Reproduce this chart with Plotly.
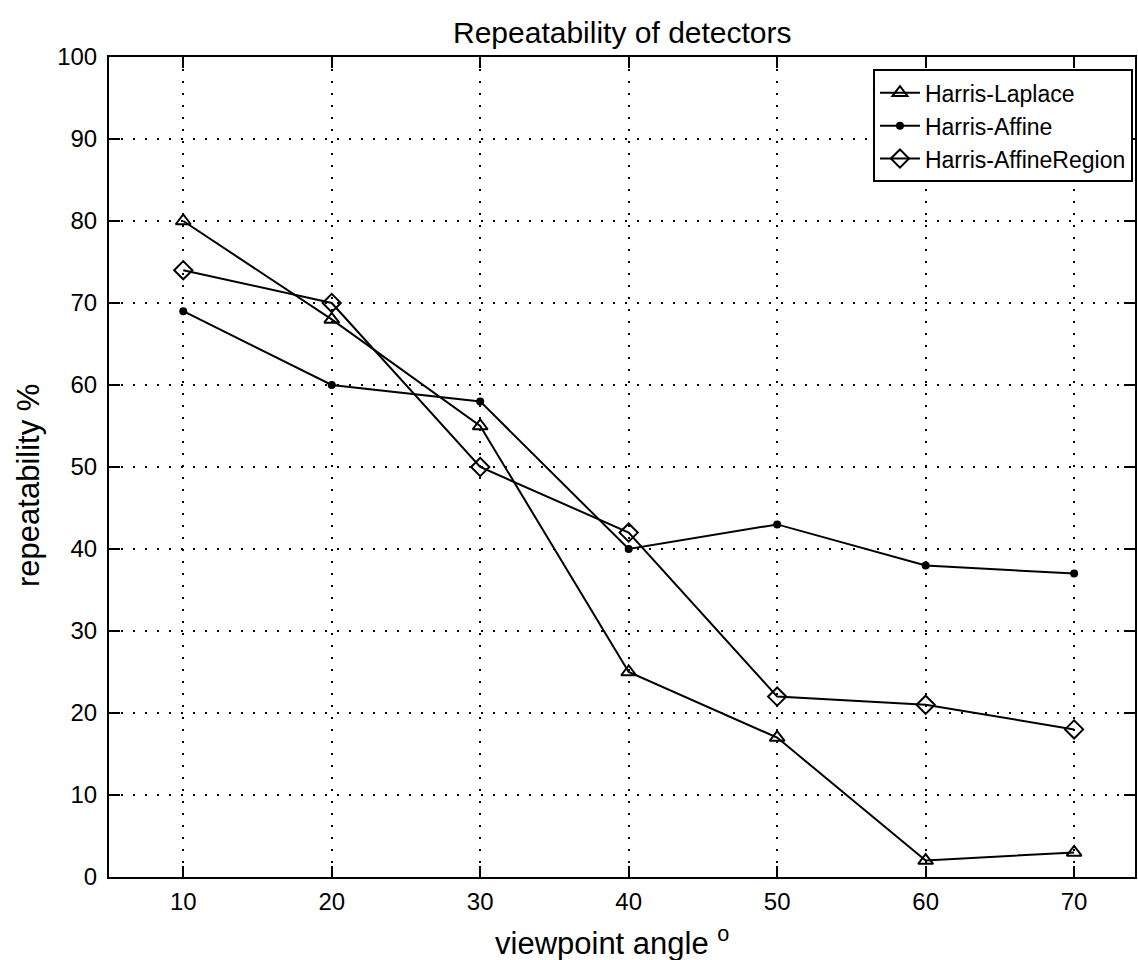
import plotly.graph_objects as go

angles = [10, 20, 30, 40, 50, 60, 70]
harris_laplace = [80, 68, 55, 25, 17, 2, 3]
harris_affine = [69, 60, 58, 40, 43, 38, 37]
harris_affine_region = [74, 70, 50, 42, 22, 21, 18]
series_names = ["Harris-Laplace", "Harris-Affine", "Harris-AffineRegion"]
x_ticks = [10, 20, 30, 40, 50, 60, 70]
y_ticks = [0, 10, 20, 30, 40, 50, 60, 70, 80, 90, 100]

FONT = "Liberation Sans, Arial, sans-serif"

fig = go.Figure()
fig.add_trace(go.Scatter(
    x=angles, y=harris_laplace, name=series_names[0], mode="lines+markers",
    line=dict(color="black", width=2),
    marker=dict(symbol="triangle-up-open", size=13, color="black", line=dict(width=2, color="black")),
))
fig.add_trace(go.Scatter(
    x=angles, y=harris_affine, name=series_names[1], mode="lines+markers",
    line=dict(color="black", width=2),
    marker=dict(symbol="circle", size=8, color="black"),
))
fig.add_trace(go.Scatter(
    x=angles, y=harris_affine_region, name=series_names[2], mode="lines+markers",
    line=dict(color="black", width=2),
    marker=dict(symbol="diamond-open", size=14, color="black", line=dict(width=2, color="black")),
))

axis_common = dict(
    showline=True, linecolor="black", linewidth=2, mirror="ticks",
    ticks="inside", ticklen=11, tickwidth=2, tickcolor="black",
    showgrid=True, gridcolor="black", gridwidth=2, griddash="2px,10px",
    zeroline=False, tickfont=dict(family=FONT, size=24, color="black"),
)

fig.update_xaxes(range=[5, 74.1], tickvals=x_ticks, ticklabelstandoff=2, **axis_common)
fig.update_yaxes(range=[0, 100], tickvals=y_ticks, ticklabelstandoff=5, **axis_common)

fig.update_layout(
    width=1138, height=960,
    margin=dict(l=109, r=1, t=57, b=83),
    paper_bgcolor="white", plot_bgcolor="white",
    font=dict(family=FONT, color="black"),
    showlegend=True,
    legend=dict(
        x=0.998, y=0.985, xanchor="right", yanchor="top",
        bgcolor="white", bordercolor="black", borderwidth=2,
        font=dict(family=FONT, size=23, color="black"),
        itemwidth=40,
    ),
    annotations=[
        dict(text="Repeatability of detectors", xref="paper", yref="paper",
             x=0.5, y=1.0, yshift=6, xanchor="center", yanchor="bottom",
             showarrow=False, font=dict(family=FONT, size=30, color="black")),
        dict(text="viewpoint angle <sup>o</sup>", xref="paper", yref="paper",
             x=0.49, y=0, yshift=-42, xanchor="center", yanchor="top",
             showarrow=False, font=dict(family=FONT, size=31, color="black")),
        dict(text="repeatability %", xref="paper", yref="paper",
             x=-0.079, y=0.478, xanchor="center", yanchor="middle", textangle=-90,
             showarrow=False, font=dict(family=FONT, size=31, color="black")),
    ],
)

fig.write_html("out.html")
